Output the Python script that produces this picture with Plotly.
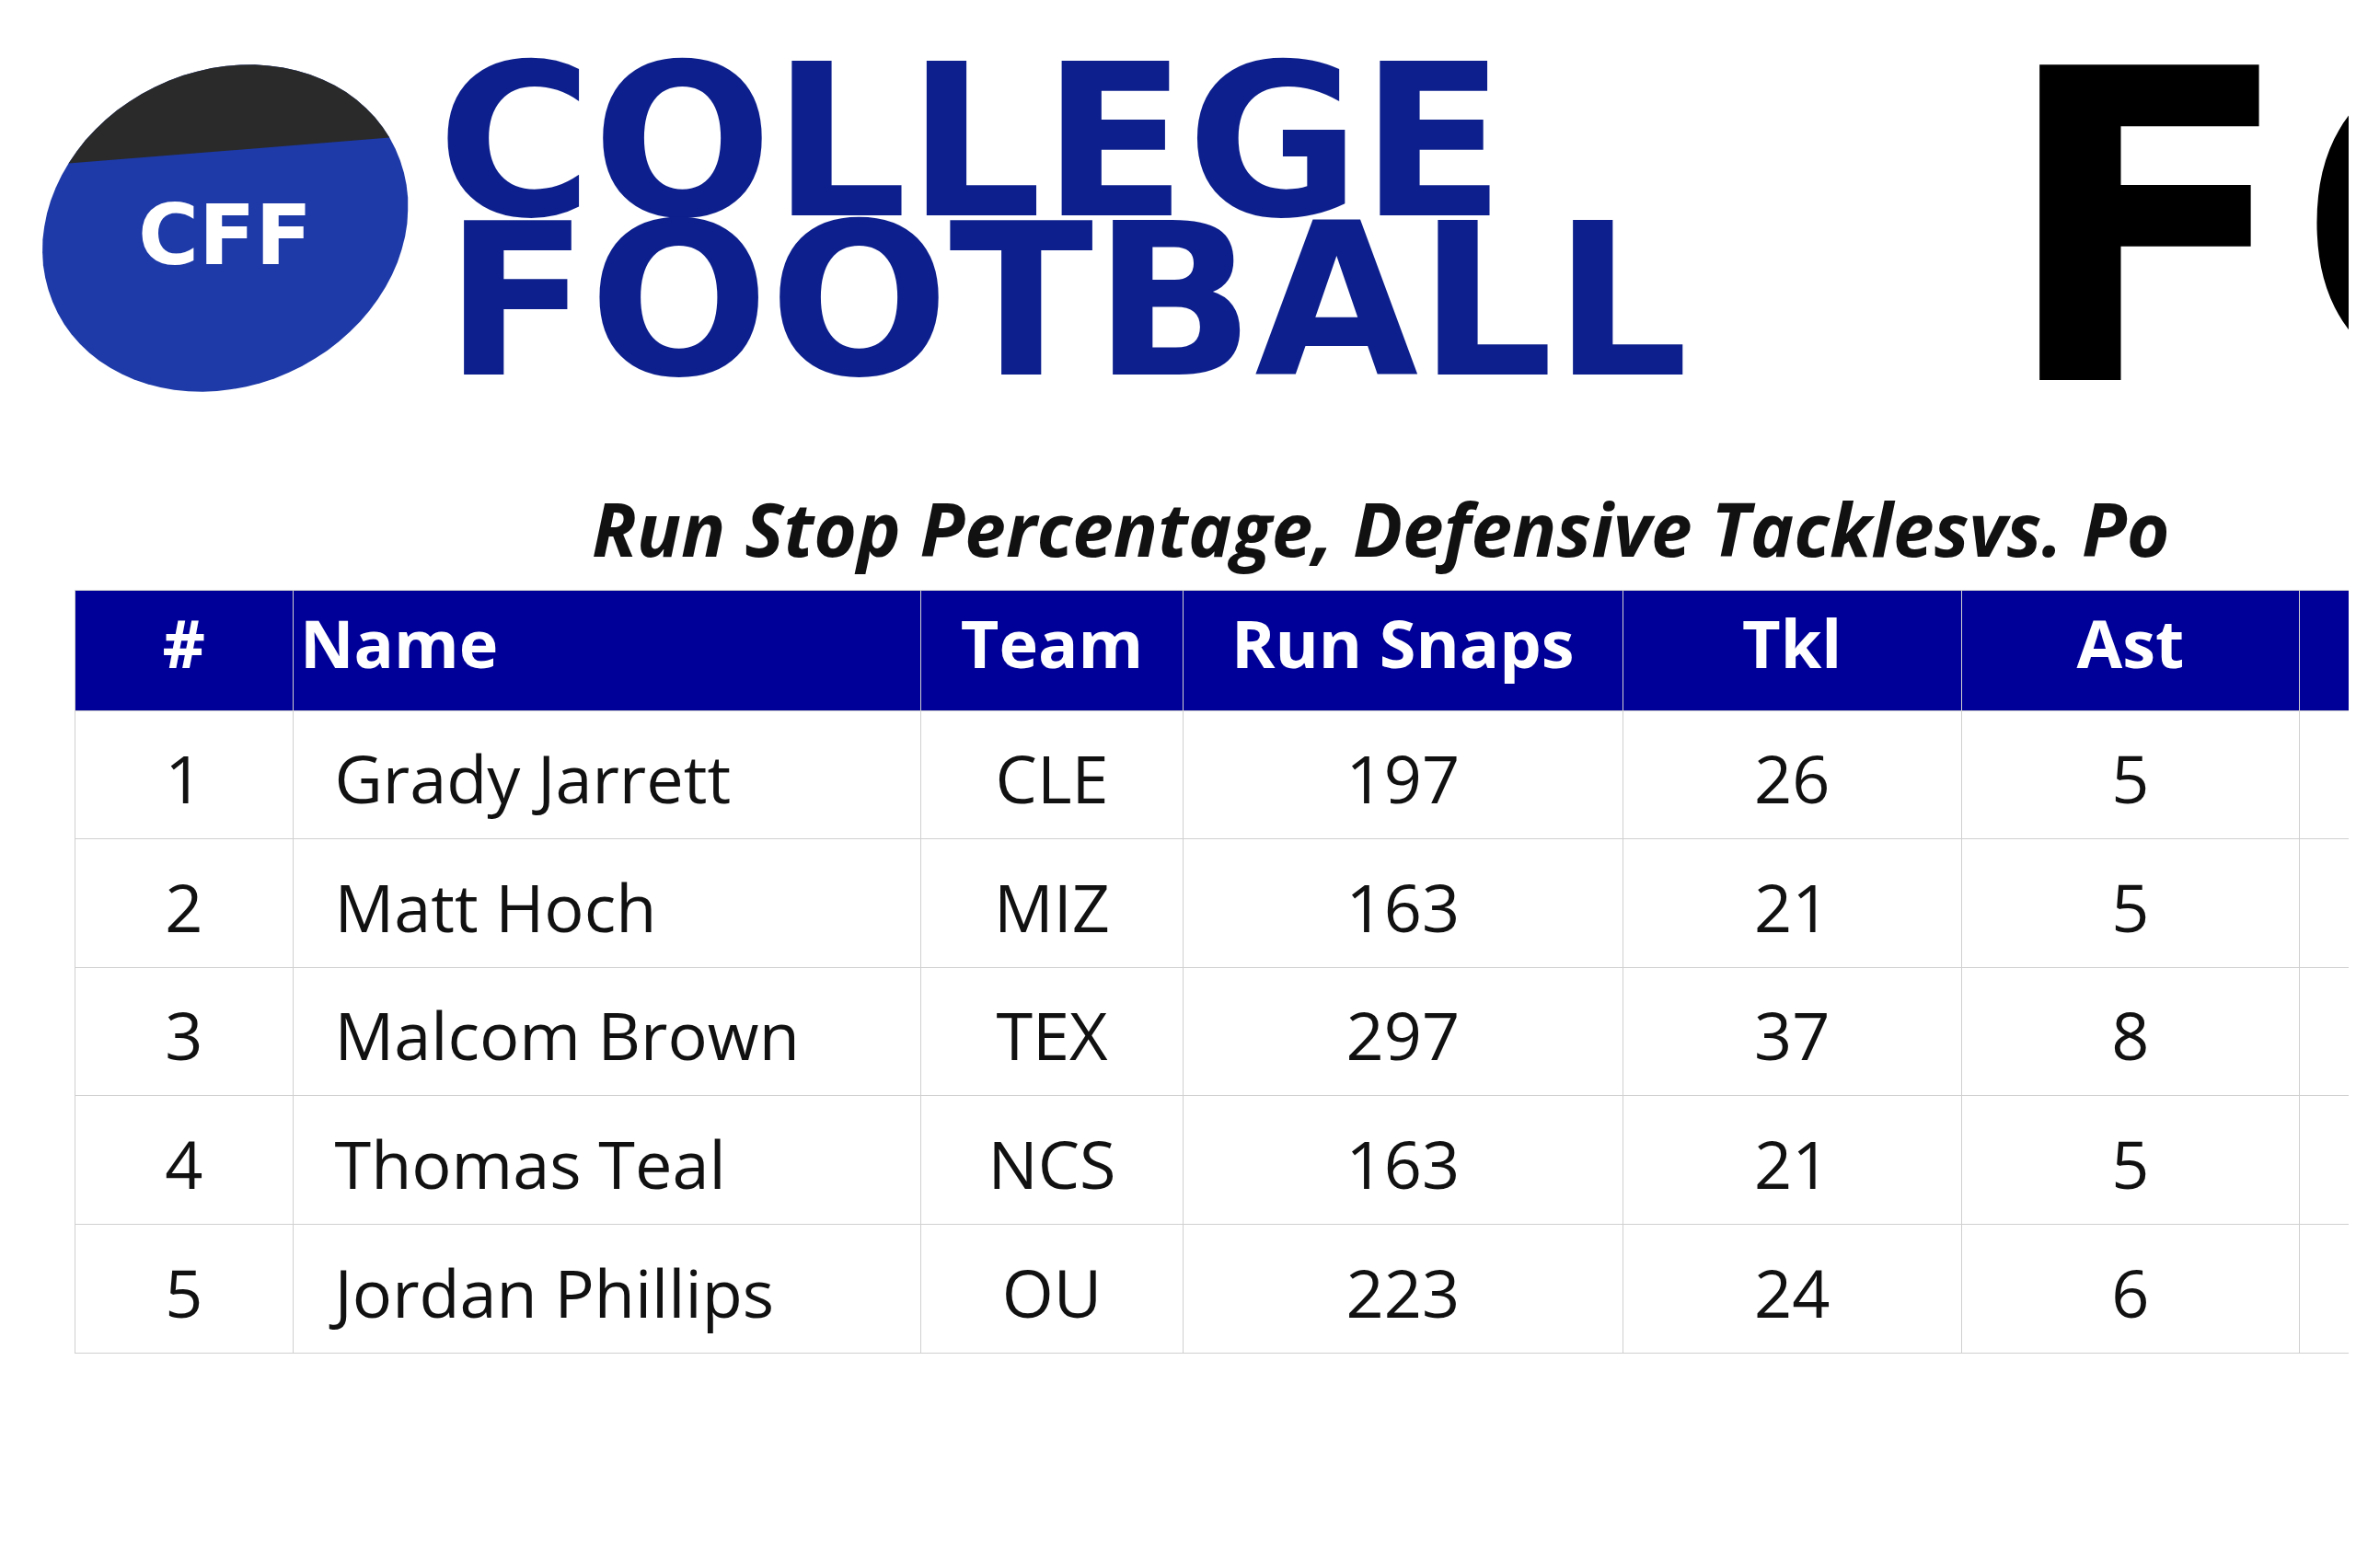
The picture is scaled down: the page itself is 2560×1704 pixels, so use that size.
import numpy as np
import plotly.graph_objects as go

W, H = 2560, 1704
S = 2560 / 1568  # reference measured on a 1568-wide view

rank = ["1", "2", "3", "4", "5"]
names = ["Grady Jarrett", "Matt Hoch", "Malcom Brown", "Thomas Teal", "Jordan Phillips"]
teams = ["CLE", "MIZ", "TEX", "NCS", "OU"]
run_snaps = [197, 163, 297, 163, 223]
tkl = [26, 21, 37, 21, 24]
ast = [5, 5, 8, 5, 6]
headers = ["#", "Name", "Team", "Run Snaps", "Tkl", "Ast", ""]
title = "Run Stop Percentage, Defensive Tacklesvs. Po"


def px(x):
    return x * S / W


def py(y):
    return 1 - y * S / H


fig = go.Figure()

col_edges = [45, 193, 620, 798, 1097, 1327, 1557, 1600]
widths = np.diff(col_edges)
aligns = ["center", "left", "center", "center", "center", "center", "center"]
font = "Open Sans"

# grid + header
fig.add_trace(go.Table(
    domain=dict(x=[px(45), 1.0], y=[0, py(388)]),
    columnwidth=widths,
    header=dict(
        values=["<b>%s</b>" % h for h in headers],
        fill_color="#000099",
        line_color="#d0d0d0",
        font=dict(color="white", size=72, family=font),
        align=aligns,
        height=80 * S,
    ),
    cells=dict(
        values=[[""] * 5] * 7,
        fill_color="white",
        line_color="#d0d0d0",
        height=85.5 * S,
    ),
))

# body text, nudged down to sit in the middle of each row
shift = 24 * S / H
fig.add_trace(go.Table(
    domain=dict(x=[px(45), 1.0], y=[0, py(388) - shift]),
    columnwidth=widths,
    header=dict(values=[""] * 7, fill_color="rgba(0,0,0,0)",
                line_color="rgba(0,0,0,0)", height=80 * S),
    cells=dict(
        values=[rank, ["  " + n for n in names], teams, run_snaps, tkl, ast, [""] * 5],
        fill_color="rgba(0,0,0,0)",
        line_color="rgba(0,0,0,0)",
        font=dict(color="#111111", size=72, family=font),
        align=aligns,
        height=85.5 * S,
    ),
))

# logo: football
t = np.linspace(0, 2 * np.pi, 80)
a, b, ang = 125, 105, np.deg2rad(-25)
cx, cy = 145, 147
ex = cx + a * np.cos(t) * np.cos(ang) - b * np.sin(t) * np.sin(ang)
ey = cy + a * np.cos(t) * np.sin(ang) + b * np.sin(t) * np.cos(ang)


def path(xs, ys):
    pts = ["%s%.4f,%.4f" % ("M" if i == 0 else "L", px(x), py(y)) for i, (x, y) in enumerate(zip(xs, ys))]
    return " ".join(pts) + " Z"


fig.add_shape(type="path", xref="paper", yref="paper", path=path(ex, ey),
              fillcolor="#1d3aa8", line=dict(width=0))
top = ey < 100 - 0.1 * (ex - cx)
fig.add_shape(type="path", xref="paper", yref="paper", path=path(ex[top], ey[top]),
              fillcolor="#2a2a2a", line=dict(width=0))
fig.add_annotation(x=px(145), y=py(118), xref="paper", yref="paper", text="<b>CFF</b>",
                   xanchor="center", showarrow=False,
                   font=dict(size=90, color="white", family="DejaVu Sans"))

fig.add_annotation(x=px(285), y=py(7), xref="paper", yref="paper", text="<b>COLLEGE</b>",
                   xanchor="left", showarrow=False,
                   font=dict(size=230, color="#0c1f8c", family="DejaVu Sans"))
fig.add_annotation(x=px(290), y=py(113), xref="paper", yref="paper", text="<b>FOOTBALL</b>",
                   xanchor="left", showarrow=False,
                   font=dict(size=230, color="#0c1f8c", family="DejaVu Sans"))
fig.add_annotation(x=px(1325), y=py(-20), xref="paper", yref="paper", text="<b>FO</b>",
                   xanchor="left", showarrow=False,
                   font=dict(size=470, color="black", family="DejaVu Sans"))

fig.add_annotation(x=px(388), y=py(312), xref="paper", yref="paper", text="<b><i>%s</i></b>" % title,
                   xanchor="left", showarrow=False,
                   font=dict(size=80, color="#111111", family=font))

fig.update_layout(width=W, height=H, margin=dict(l=0, r=0, t=0, b=0),
                  paper_bgcolor="white", plot_bgcolor="white")

fig.write_html("out.html")
